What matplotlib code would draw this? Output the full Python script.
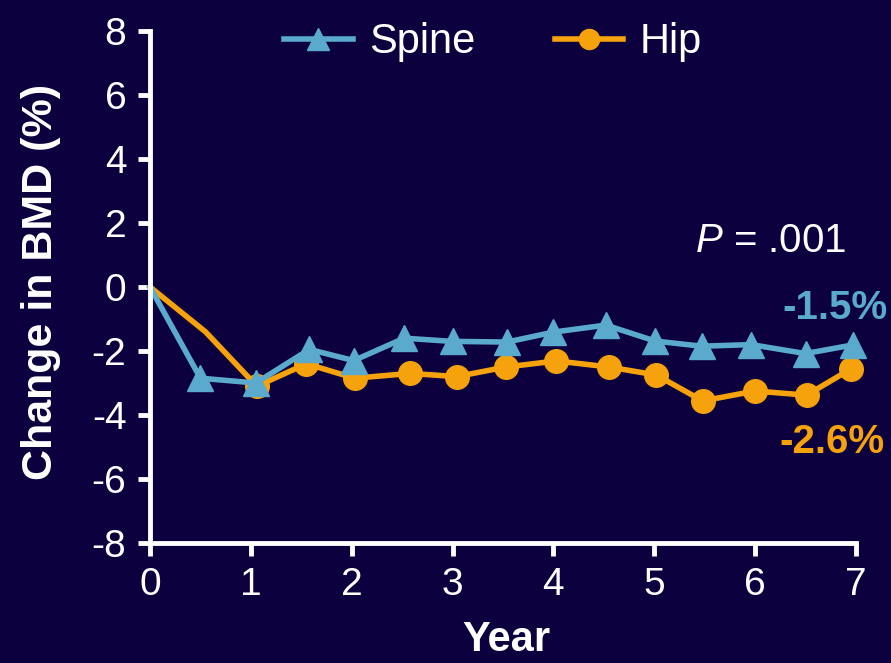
import matplotlib
matplotlib.use("Agg")
import matplotlib.pyplot as plt
from matplotlib.ticker import MultipleLocator

# values
spine_year = [0, 0.5, 1.05, 1.58, 2.02, 2.52, 3.0, 3.54, 4.0, 4.52, 5.01, 5.47, 5.96, 6.5, 6.97]
spine_bmd = [0, -2.85, -3.0, -1.95, -2.3, -1.6, -1.7, -1.72, -1.41, -1.19, -1.69, -1.85, -1.8, -2.08, -1.81]
hip_year = [0, 0.55, 1.06, 1.55, 2.03, 2.58, 3.04, 3.53, 4.03, 4.55, 5.02, 5.48, 6.0, 6.51, 6.95]
hip_bmd = [0, -1.4, -3.1, -2.4, -2.85, -2.7, -2.8, -2.5, -2.31, -2.5, -2.75, -3.56, -3.25, -3.38, -2.56]
spine_final = "-1.5%"
hip_final = "-2.6%"
p_text = r"$P$ = .001"

bg = "#0c003e"
blue = "#5aaace"
orange = "#f5a20c"

plt.rcParams["font.family"] = ["Liberation Sans", "DejaVu Sans"]
plt.rcParams["mathtext.fontset"] = "custom"
plt.rcParams["mathtext.rm"] = "Liberation Sans"
plt.rcParams["mathtext.it"] = "Liberation Sans:italic"
plt.rcParams["axes.unicode_minus"] = False

fig = plt.figure(figsize=(8.91, 6.63), dpi=100, facecolor=bg)
ax = fig.add_axes([150/891, 120/663, 706/891, 512/663], facecolor=bg)

ax.plot(hip_year, hip_bmd, color=orange, lw=4, marker="o", ms=17,
        markevery=list(range(2, len(hip_year))), label="Hip", clip_on=False)
ax.plot(spine_year, spine_bmd, color=blue, lw=4, marker="^", ms=19,
        markevery=list(range(1, len(spine_year))), label="Spine", clip_on=False)

ax.set_xlim(0, 7)
ax.set_ylim(-8, 8)
ax.xaxis.set_major_locator(MultipleLocator(1))
ax.yaxis.set_major_locator(MultipleLocator(2))

for s in ["top", "right"]:
    ax.spines[s].set_visible(False)
for s in ["left", "bottom"]:
    ax.spines[s].set_color("white")
    ax.spines[s].set_linewidth(3.5)

ax.tick_params(axis="y", colors="white", labelsize=28, length=9, width=3.5, pad=8)
ax.tick_params(axis="x", colors="white", labelsize=28, length=9, width=3.5, pad=8)

ax.set_ylabel("Change in BMD (%)", color="white", fontsize=31, fontweight="bold")
ax.yaxis.set_label_coords(-0.126, 0.51)
ax.set_xlabel("Year", color="white", fontsize=30, fontweight="bold")
ax.xaxis.set_label_coords(0.505, -0.151)

ax.text(5.40, 1.45, p_text, color="white", fontsize=29, ha="left", va="center")
ax.text(6.79, -0.66, spine_final, color=blue, fontsize=29, fontweight="bold",
        ha="center", va="center", clip_on=False)
ax.text(6.76, -4.84, hip_final, color=orange, fontsize=29, fontweight="bold",
        ha="center", va="center", clip_on=False)

h, l = ax.get_legend_handles_labels()
leg = ax.legend(h[::-1], l[::-1], ncol=2, loc="center", bbox_to_anchor=(0.486, 0.978),
                frameon=False, fontsize=30, handlelength=1.65, handletextpad=0.4,
                columnspacing=1.9, markerscale=0.85)
for t in leg.get_texts():
    t.set_color("white")

fig.savefig("out.png", dpi=100, facecolor=bg)
